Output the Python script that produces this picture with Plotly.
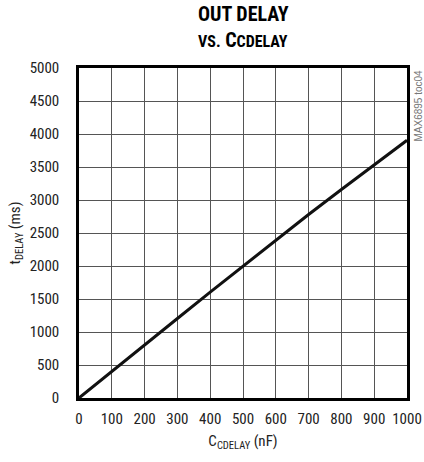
import plotly.graph_objects as go

c_nf = [0, 100, 200, 300, 400, 500, 600, 700, 800, 900, 1000]
t_ms = [0, 405, 805, 1205, 1605, 2000, 2390, 2780, 3160, 3535, 3905]
x_ticks = [0, 100, 200, 300, 400, 500, 600, 700, 800, 900, 1000]
y_ticks = [0, 500, 1000, 1500, 2000, 2500, 3000, 3500, 4000, 4500, 5000]

FONT = "Liberation Sans Narrow, Roboto Condensed, Arial Narrow, sans-serif"
PLOT_H = 330.0

fig = go.Figure()
fig.add_trace(go.Scatter(x=c_nf, y=t_ms, mode="lines",
                         line=dict(color="#111111", width=3), showlegend=False))

fig.update_layout(
    width=424, height=462,
    margin=dict(l=79, r=17, t=68, b=64, autoexpand=False),
    paper_bgcolor="white", plot_bgcolor="white",
    font=dict(family=FONT, size=15, color="#222222"),
)
fig.update_xaxes(
    range=[0, 1000], tickvals=x_ticks, ticks="", showgrid=True,
    gridcolor="#555555", gridwidth=1, zeroline=False, automargin=False,
    showline=True, linecolor="#000000", linewidth=2.5, mirror=True,
    tickfont=dict(size=15), ticklabelstandoff=5,
    title=dict(text="C<sub>CDELAY</sub> (nF)", font=dict(size=15), standoff=9),
)
fig.update_yaxes(
    range=[0, 5000], tickvals=y_ticks, ticks="", showgrid=True,
    gridcolor="#555555", gridwidth=1, zeroline=False, automargin=False,
    showline=True, linecolor="#000000", linewidth=2.5, mirror=True,
    tickfont=dict(size=15), ticklabelstandoff=14,
    title=dict(text="t<sub>DELAY</sub> (ms)", font=dict(size=15), standoff=6),
)
fig.add_annotation(text="<b>OUT DELAY</b>", xref="paper", yref="paper",
                   x=0.5, y=1 + 54 / PLOT_H, xanchor="center", yanchor="middle",
                   showarrow=False, font=dict(family=FONT, size=20, color="#000000"))
fig.add_annotation(text="<b><span style='font-size:16px'>VS.</span> C<span style='font-size:16px'>CDELAY</span></b>",
                   xref="paper", yref="paper",
                   x=0.5, y=1 + 28 / PLOT_H, xanchor="center", yanchor="middle",
                   showarrow=False, font=dict(family=FONT, size=20, color="#000000"))
fig.add_annotation(text="MAX6895 toc04", xref="paper", yref="paper",
                   x=1.0, xshift=3, y=1.0, xanchor="left", yanchor="top", textangle=-90,
                   showarrow=False, font=dict(family="Liberation Sans Narrow, Arial", size=10, color="#777777"))

fig.write_html("out.html", config={"displayModeBar": False},
               post_script="document.body.style.margin='0';")
